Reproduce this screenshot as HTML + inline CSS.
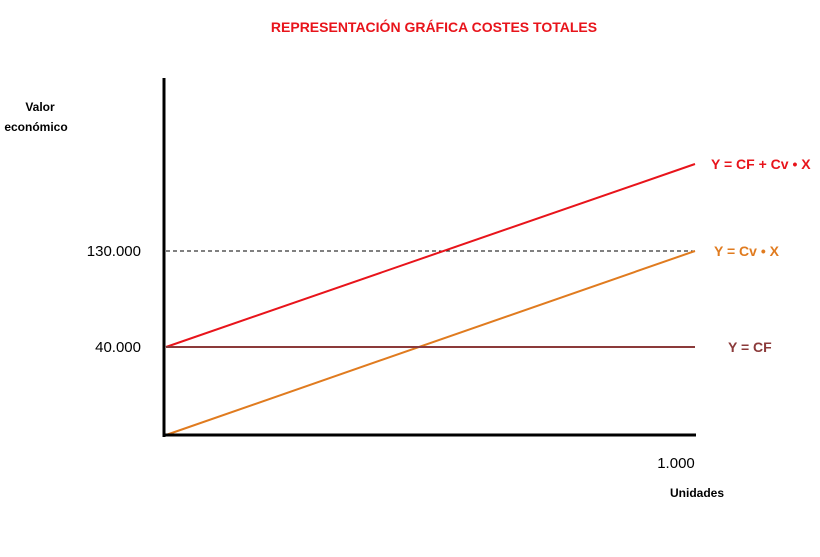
<!DOCTYPE html>
<html><head><meta charset="utf-8"><style>
html,body{margin:0;padding:0;background:#fff;}
svg{display:block;font-family:"Liberation Sans",sans-serif;}
</style></head><body>
<svg id="chart" width="820" height="557" viewBox="0 0 820 557">
<text x="434" y="32" text-anchor="middle" font-size="14" font-weight="bold" fill="#e8141b">REPRESENTACIÓN GRÁFICA COSTES TOTALES</text>
<text x="40" y="111" text-anchor="middle" font-size="12" font-weight="bold" fill="#000">Valor</text>
<text x="36" y="131" text-anchor="middle" font-size="12" font-weight="bold" fill="#000">económico</text>
<text x="697" y="497" text-anchor="middle" font-size="12" font-weight="bold" fill="#000">Unidades</text>
<g id="marks"></g>
<line x1="164" y1="78" x2="164" y2="437" stroke="#000" stroke-width="3"/>
<line x1="163" y1="435" x2="696" y2="435" stroke="#000" stroke-width="3"/>
</svg>
<script>
const yTickValues = [40000, 130000];
const yTickLabels = ["40.000", "130.000"];
const xTickValues = [1000];
const xTickLabels = ["1.000"];
const seriesNames = ["Y = CF + Cv • X", "Y = Cv • X", "Y = CF"];
const seriesStart = [40000, 0, 40000];
const seriesEnd = [170000, 130000, 40000];
const seriesColors = ["#e8141b", "#e07b1f", "#8b3a3a"];

const yDom = [0, 40000, 130000, 170000];
const yRng = [435, 347, 251, 164];
function y(v){
  for(let i=0;i<yDom.length-1;i++){
    if(v<=yDom[i+1]||i===yDom.length-2){
      const t=(v-yDom[i])/(yDom[i+1]-yDom[i]);
      return yRng[i]+t*(yRng[i+1]-yRng[i]);
    }
  }
}
function x(v){ return 166 + v/1000*(695-166); }

const ns="http://www.w3.org/2000/svg";
const g=document.getElementById("marks");
function mk(tag,attrs){const e=document.createElementNS(ns,tag);for(const k in attrs)e.setAttribute(k,attrs[k]);g.appendChild(e);return e;}

yTickValues.forEach((v,i)=>{
  const t=mk("text",{x:141,y:y(v)+5,"text-anchor":"end","font-size":"15",fill:"#000"});
  t.textContent=yTickLabels[i];
  
  
});
const d=mk("line",{x1:166,y1:y(130000),x2:x(1000),y2:y(130000),stroke:"#000","stroke-width":1,"stroke-dasharray":"4,3"});



xTickValues.forEach((v,i)=>{
  const t=mk("text",{x:x(v)-19,y:468,"text-anchor":"middle","font-size":"15",fill:"#000"});
  t.textContent=xTickLabels[i];
  
  
});

const labelPos=[[711,0],[714,0],[728,0]];
seriesNames.forEach((n,i)=>{
  const l=mk("line",{x1:x(0),y1:y(seriesStart[i]),x2:x(1000),y2:y(seriesEnd[i]),stroke:seriesColors[i],"stroke-width":2});
  
  
  const t=mk("text",{x:labelPos[i][0],y:y(seriesEnd[i])+5,"font-size":"14","font-weight":"bold",fill:seriesColors[i]});
  t.textContent=n;
  
  
});
</script>
</body></html>
